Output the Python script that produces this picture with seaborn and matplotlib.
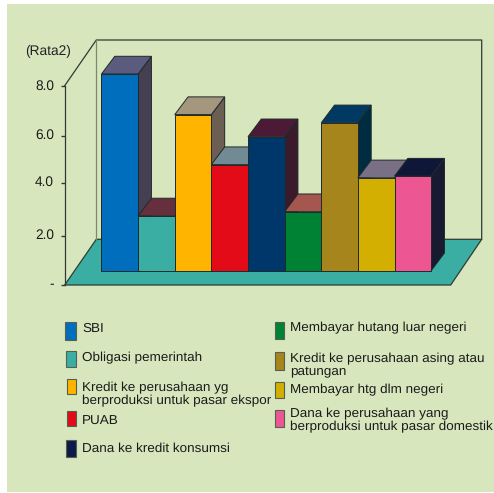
import matplotlib
matplotlib.use("Agg")
import matplotlib.pyplot as plt
from matplotlib.patches import Polygon, Rectangle
from matplotlib.transforms import ScaledTranslation
import seaborn as sns

# values
categories = ["SBI", "Obligasi pemerintah", "Kredit ke perusahaan yg\nberproduksi untuk pasar ekspor",
              "PUAB", "Dana ke kredit konsumsi", "Membayar hutang luar negeri",
              "Kredit ke perusahaan asing atau\npatungan", "Membayar htg dlm negeri",
              "Dana ke perusahaan yang\nberproduksi untuk pasar domestik"]
values = [7.9, 2.2, 6.27, 4.26, 5.38, 2.37, 5.94, 3.73, 3.8]
tick_values = [0, 1.98, 4.11, 6.0, 7.98]
tick_labels = ["-", "2.0", "4.0", "6.0", "8.0"]

front_colors = ["#006EBC", "#3BAEA3", "#FFB400", "#E30B17", "#00376B",
                "#008235", "#A5851C", "#D2AF00", "#EC5693"]
top_colors = ["#5B5B7E", "#652F3D", "#A5967E", "#728A94", "#4A1A37",
              "#A5574F", "#003A62", "#7A7085", "#0F1738"]
side_colors = ["#453F52", "#3B2030", "#6B5E52", "#4F5F66", "#3A1A2B",
               "#6E3A34", "#002C42", "#544C5C", "#171A30"]
legend_colors = ["#006EBC", "#3BAEA3", "#FFB400", "#E30B17", "#0C1A4A",
                 "#008235", "#A5851C", "#D2AF00", "#EC5693"]

BG = "#D8E6BE"
LINE = "#2E3B33"
W, H = 494, 493
PX_X = 36.63   # px per category
PX_Y = 24.9    # px per value unit

plt.rcParams["font.family"] = ["Liberation Sans", "DejaVu Sans"]
plt.rcParams["text.hinting"] = "no_hinting"
fig = plt.figure(figsize=(W / 100, H / 100), dpi=100, facecolor="white")

# background layer in pixel coords: panel, walls, floor, legend
bg = fig.add_axes([0, 0, 1, 1], zorder=0)
bg.set_xlim(0, W)
bg.set_ylim(H, 0)
bg.axis("off")
bg.add_patch(Rectangle((7, 4), W - 7, 488, fc=BG, ec="none"))
bg.add_patch(Polygon([(64.7, 285), (450.7, 285), (481.7, 239.3), (96.3, 239.3)],
                     fc="#3BAEA3", ec=LINE, lw=0.9))
bg.plot([64.7, 96.3, 481.7, 481.7], [85.7, 40, 40, 239.3], color=LINE, lw=0.9)
bg.plot([96.3, 96.3], [40, 239.3], color="#7A8A70", lw=0.9)

swatches = [(65.3, 322, 10.4, 18), (66.3, 351.3, 9.4, 16), (67, 379, 8.7, 14.7),
            (67, 410.7, 8.7, 15), (65.7, 440, 10, 17.3), (275, 322.3, 9.3, 16.7),
            (275, 351.7, 9.3, 18.3), (275, 381.7, 9.3, 16), (275, 410, 9.3, 17.3)]
text_pos = [(82.3, 328.5), (82.3, 358), (82.3, 394.2), (82.3, 421.7), (82.3, 449),
            (290, 328), (290, 365), (290, 390), (290, 420.8)]
for c, sw, pos, lab in zip(legend_colors, swatches, text_pos, categories):
    bg.add_patch(Rectangle(sw[:2], sw[2], sw[3], fc=c, ec="#55604F", lw=0.8))
    bg.text(pos[0], pos[1], lab, fontsize=9.7, color="#1A1A1A", va="center",
            ha="left", linespacing=1.08)
bg.text(25, 51, "(Rata2)", fontsize=9.9, color="#222222", va="center", ha="left")

# chart layer
ax = fig.add_axes([64.7 / W, (H - 285) / H, (W - 64.7) / W, 285 / H], zorder=1)
ax.patch.set_alpha(0)
sns.barplot(x=categories, y=values, hue=categories, order=categories, hue_order=categories,
            palette=front_colors, saturation=1, width=1, dodge=False, legend=False,
            bottom=14.3 / PX_Y, edgecolor="#1E2A2A", linewidth=0.7, ax=ax)
ax.set_xlim((64.7 - 119.8) / PX_X, (W - 119.8) / PX_X)
ax.set_ylim(0, 285 / PX_Y)

# side and top faces from the bars seaborn made
dx, dy = 13.3 / PX_X, 17.7 / PX_Y
bars = sorted(ax.patches, key=lambda p: p.get_x())
for i, b in enumerate(bars):
    x0, x1 = b.get_x(), b.get_x() + b.get_width()
    y0, y1 = b.get_y(), b.get_y() + b.get_height()
    b.set_zorder(3 * i + 4)
    ax.add_patch(Polygon([(x1, y0), (x1 + dx, y0 + dy), (x1 + dx, y1 + dy), (x1, y1)],
                         fc=side_colors[i], ec="#1E2A2A", lw=0.7, zorder=3 * i + 2))
    ax.add_patch(Polygon([(x0, y1), (x0 + dx, y1 + dy), (x1 + dx, y1 + dy), (x1, y1)],
                         fc=top_colors[i], ec="#1E2A2A", lw=0.7, zorder=3 * i + 3))

ax.set_xticks([])
ax.set_xlabel("")
ax.set_ylabel("")
ax.set_yticks(tick_values)
ax.set_yticklabels(tick_labels, fontsize=9.8, color="#1A1A1A")
ax.tick_params(axis="y", length=4.5 * 0.72, width=1, color=LINE, pad=4.5)
# labels sit a little above their ticks in the original
for lab in ax.get_yticklabels():
    lab.set_transform(lab.get_transform() + ScaledTranslation(0, 1.5 / 100, fig.dpi_scale_trans))
for s in ["top", "right", "bottom"]:
    ax.spines[s].set_visible(False)
ax.spines["left"].set_color(LINE)
ax.spines["left"].set_linewidth(0.9)
ax.spines["left"].set_bounds(0, tick_values[-1])

fig.savefig("out.png", dpi=100)
